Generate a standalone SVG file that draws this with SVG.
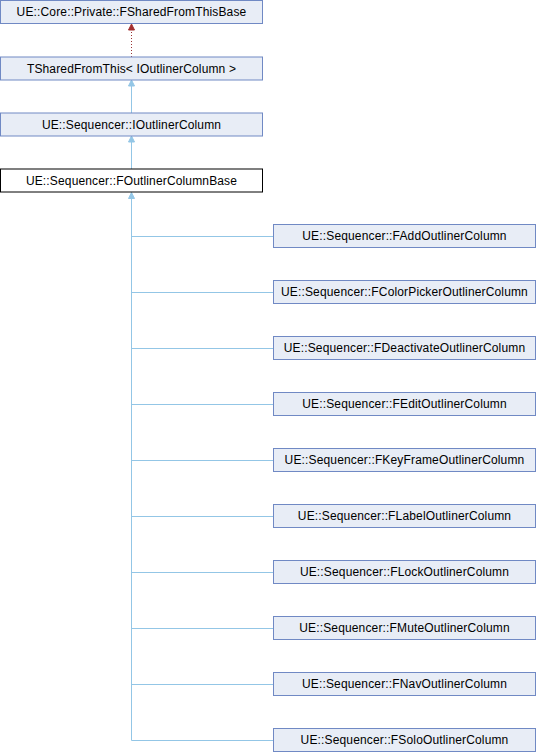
<svg xmlns="http://www.w3.org/2000/svg" width="536" height="752" viewBox="0 0 536 752">
<style>
.n rect{fill:#e8edf6;stroke:#7089c4;stroke-width:1}
.n.cur rect{fill:#ffffff;stroke:#000000}
.n text{font-family:"Liberation Sans",Arial,sans-serif;font-size:12px;letter-spacing:0.15px;fill:#000;text-anchor:middle}
.e{fill:none;stroke:#93c6e6;stroke-width:1}
.d{fill:none;stroke:#9a3434;stroke-width:1;stroke-dasharray:1,2}
</style>
<defs>
<marker id="a" markerWidth="6" markerHeight="7" refX="3" refY="0.5" markerUnits="userSpaceOnUse" viewBox="0 0 6 7" overflow="visible">
<path d="M0,6.5 L3,0.5 L6,6.5 Z" fill="#93c6e6" stroke="#93c6e6"/>
</marker>
<marker id="r" markerWidth="6" markerHeight="7" refX="3" refY="0.5" markerUnits="userSpaceOnUse" viewBox="0 0 6 7" overflow="visible">
<path d="M0,6.5 L3,0.5 L6,6.5 Z" fill="#a33030" stroke="#a33030"/>
</marker>
</defs>
<g id="edges">
<line class="d" x1="131.5" y1="57" x2="131.5" y2="24" marker-end="url(#r)"/>
<line class="e" x1="131.5" y1="113" x2="131.5" y2="80" marker-end="url(#a)"/>
<line class="e" x1="131.5" y1="169" x2="131.5" y2="136" marker-end="url(#a)"/>
<path class="e" d="M131.5,740.5 V192.5"/>
<path d="M128.5,198.5 L131.5,192.5 L134.5,198.5 Z" fill="#93c6e6" stroke="#93c6e6"/>
<path class="e" d="M131.5,236.5 H273 M131.5,292.5 H273 M131.5,348.5 H273 M131.5,404.5 H273 M131.5,460.5 H273 M131.5,516.5 H273 M131.5,572.5 H273 M131.5,628.5 H273 M131.5,684.5 H273 M131.5,740.5 H273"/>
</g>
<g id="n1" class="n"><rect x="0.5" y="0.5" width="262" height="23"/><text x="131.5" y="16">UE::Core::Private::FSharedFromThisBase</text></g>
<g id="n2" class="n"><rect x="0.5" y="57" width="262" height="23"/><text x="131.5" y="72.5">TSharedFromThis&lt; IOutlinerColumn &gt;</text></g>
<g id="n3" class="n"><rect x="0.5" y="113" width="262" height="23"/><text x="131.5" y="128.5">UE::Sequencer::IOutlinerColumn</text></g>
<g id="n4" class="n cur"><rect x="0.5" y="169" width="262" height="23"/><text x="131.5" y="184.5">UE::Sequencer::FOutlinerColumnBase</text></g>
<g id="c1" class="n"><rect x="273.5" y="224.5" width="262" height="23"/><text x="404.5" y="240">UE::Sequencer::FAddOutlinerColumn</text></g>
<g id="c2" class="n"><rect x="273.5" y="280.5" width="262" height="23"/><text x="404.5" y="296">UE::Sequencer::FColorPickerOutlinerColumn</text></g>
<g id="c3" class="n"><rect x="273.5" y="336.5" width="262" height="23"/><text x="404.5" y="352">UE::Sequencer::FDeactivateOutlinerColumn</text></g>
<g id="c4" class="n"><rect x="273.5" y="392.5" width="262" height="23"/><text x="404.5" y="408">UE::Sequencer::FEditOutlinerColumn</text></g>
<g id="c5" class="n"><rect x="273.5" y="448.5" width="262" height="23"/><text x="404.5" y="464">UE::Sequencer::FKeyFrameOutlinerColumn</text></g>
<g id="c6" class="n"><rect x="273.5" y="504.5" width="262" height="23"/><text x="404.5" y="520">UE::Sequencer::FLabelOutlinerColumn</text></g>
<g id="c7" class="n"><rect x="273.5" y="560.5" width="262" height="23"/><text x="404.5" y="576">UE::Sequencer::FLockOutlinerColumn</text></g>
<g id="c8" class="n"><rect x="273.5" y="616.5" width="262" height="23"/><text x="404.5" y="632">UE::Sequencer::FMuteOutlinerColumn</text></g>
<g id="c9" class="n"><rect x="273.5" y="672.5" width="262" height="23"/><text x="404.5" y="688">UE::Sequencer::FNavOutlinerColumn</text></g>
<g id="c10" class="n"><rect x="273.5" y="728.5" width="262" height="23"/><text x="404.5" y="744">UE::Sequencer::FSoloOutlinerColumn</text></g>
</svg>
